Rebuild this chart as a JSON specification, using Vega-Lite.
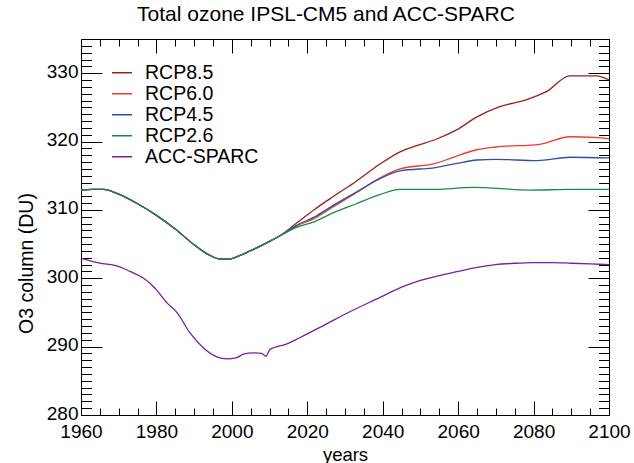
{
  "$schema": "https://vega.github.io/schema/vega-lite/v6.json",
  "autosize": {"type": "none"},
  "padding": {"left": 81, "top": 39, "right": 25, "bottom": 48},
  "width": 528,
  "height": 376,
  "background": "white",
  "config": {
    "view": {"stroke": null},
    "font": "Liberation Sans",
    "axis": {"domainColor": "black", "tickColor": "black", "labelColor": "black", "titleColor": "black", "domainWidth": 1, "tickWidth": 1, "grid": false, "labelFontWeight": "normal", "titleFontWeight": "normal"}
  },
  "title": {"text": "Total ozone IPSL-CM5 and ACC-SPARC", "fontSize": 21, "fontWeight": "normal", "color": "black", "font": "Liberation Sans", "anchor": "middle", "offset": 3, "dx": -19},
  "datasets": {
    "d": [
      {"series":"RCP8.5","year":1960,"o3":312.9},{"series":"RCP8.5","year":1963,"o3":313.0},{"series":"RCP8.5","year":1966,"o3":313.0},{"series":"RCP8.5","year":1970,"o3":312.3},{"series":"RCP8.5","year":1975,"o3":310.9},{"series":"RCP8.5","year":1980,"o3":309.2},{"series":"RCP8.5","year":1985,"o3":307.2},{"series":"RCP8.5","year":1990,"o3":304.9},{"series":"RCP8.5","year":1994,"o3":303.4},{"series":"RCP8.5","year":1997,"o3":302.8},{"series":"RCP8.5","year":1999,"o3":302.8},{"series":"RCP8.5","year":2002,"o3":303.3},{"series":"RCP8.5","year":2006,"o3":304.3},{"series":"RCP8.5","year":2010,"o3":305.4},{"series":"RCP8.5","year":2013,"o3":306.3},
      {"series":"RCP8.5","year":2017,"o3":308.0},{"series":"RCP8.5","year":2022,"o3":310.1},{"series":"RCP8.5","year":2027,"o3":312.0},{"series":"RCP8.5","year":2033,"o3":314.2},{"series":"RCP8.5","year":2039,"o3":316.6},{"series":"RCP8.5","year":2044.6,"o3":318.5},{"series":"RCP8.5","year":2049,"o3":319.4},{"series":"RCP8.5","year":2054,"o3":320.3},{"series":"RCP8.5","year":2059.6,"o3":321.7},{"series":"RCP8.5","year":2065,"o3":323.6},{"series":"RCP8.5","year":2071,"o3":325.1},{"series":"RCP8.5","year":2078,"o3":326.1},{"series":"RCP8.5","year":2083.4,"o3":327.3},{"series":"RCP8.5","year":2089.6,"o3":329.6},{"series":"RCP8.5","year":2096.7,"o3":329.6},{"series":"RCP8.5","year":2100,"o3":329.0},
      {"series":"RCP6.0","year":1960,"o3":312.9},{"series":"RCP6.0","year":1963,"o3":313.0},{"series":"RCP6.0","year":1966,"o3":313.0},{"series":"RCP6.0","year":1970,"o3":312.3},{"series":"RCP6.0","year":1975,"o3":310.9},{"series":"RCP6.0","year":1980,"o3":309.2},{"series":"RCP6.0","year":1985,"o3":307.2},{"series":"RCP6.0","year":1990,"o3":304.9},{"series":"RCP6.0","year":1994,"o3":303.4},{"series":"RCP6.0","year":1997,"o3":302.8},{"series":"RCP6.0","year":1999,"o3":302.8},{"series":"RCP6.0","year":2002,"o3":303.3},{"series":"RCP6.0","year":2006,"o3":304.3},{"series":"RCP6.0","year":2010,"o3":305.4},{"series":"RCP6.0","year":2013,"o3":306.3},
      {"series":"RCP6.0","year":2017,"o3":307.6},{"series":"RCP6.0","year":2022,"o3":308.8},{"series":"RCP6.0","year":2027,"o3":310.5},{"series":"RCP6.0","year":2033,"o3":312.5},{"series":"RCP6.0","year":2039,"o3":314.6},{"series":"RCP6.0","year":2044.6,"o3":316.0},{"series":"RCP6.0","year":2054,"o3":316.8},{"series":"RCP6.0","year":2058.7,"o3":317.7},{"series":"RCP6.0","year":2065,"o3":318.8},{"series":"RCP6.0","year":2070,"o3":319.2},{"series":"RCP6.0","year":2081.6,"o3":319.6},{"series":"RCP6.0","year":2089.6,"o3":320.7},{"series":"RCP6.0","year":2096,"o3":320.6},{"series":"RCP6.0","year":2100,"o3":320.4},
      {"series":"RCP4.5","year":1960,"o3":312.9},{"series":"RCP4.5","year":1963,"o3":313.0},{"series":"RCP4.5","year":1966,"o3":313.0},{"series":"RCP4.5","year":1970,"o3":312.3},{"series":"RCP4.5","year":1975,"o3":310.9},{"series":"RCP4.5","year":1980,"o3":309.2},{"series":"RCP4.5","year":1985,"o3":307.2},{"series":"RCP4.5","year":1990,"o3":304.9},{"series":"RCP4.5","year":1994,"o3":303.4},{"series":"RCP4.5","year":1997,"o3":302.8},{"series":"RCP4.5","year":1999,"o3":302.8},{"series":"RCP4.5","year":2002,"o3":303.3},{"series":"RCP4.5","year":2006,"o3":304.3},{"series":"RCP4.5","year":2010,"o3":305.4},{"series":"RCP4.5","year":2013,"o3":306.3},
      {"series":"RCP4.5","year":2017,"o3":307.7},{"series":"RCP4.5","year":2022,"o3":309.0},{"series":"RCP4.5","year":2027,"o3":310.7},{"series":"RCP4.5","year":2033,"o3":312.6},{"series":"RCP4.5","year":2039,"o3":314.5},{"series":"RCP4.5","year":2044.6,"o3":315.7},{"series":"RCP4.5","year":2054,"o3":316.2},{"series":"RCP4.5","year":2059.6,"o3":316.8},{"series":"RCP4.5","year":2065,"o3":317.3},{"series":"RCP4.5","year":2070,"o3":317.4},{"series":"RCP4.5","year":2081,"o3":317.2},{"series":"RCP4.5","year":2089.6,"o3":317.7},{"series":"RCP4.5","year":2100,"o3":317.6},
      {"series":"RCP2.6","year":1960,"o3":312.9},{"series":"RCP2.6","year":1963,"o3":313.0},{"series":"RCP2.6","year":1966,"o3":313.0},{"series":"RCP2.6","year":1970,"o3":312.3},{"series":"RCP2.6","year":1975,"o3":310.9},{"series":"RCP2.6","year":1980,"o3":309.2},{"series":"RCP2.6","year":1985,"o3":307.2},{"series":"RCP2.6","year":1990,"o3":304.9},{"series":"RCP2.6","year":1994,"o3":303.4},{"series":"RCP2.6","year":1997,"o3":302.8},{"series":"RCP2.6","year":1999,"o3":302.8},{"series":"RCP2.6","year":2002,"o3":303.3},{"series":"RCP2.6","year":2006,"o3":304.3},{"series":"RCP2.6","year":2010,"o3":305.4},{"series":"RCP2.6","year":2013,"o3":306.3},
      {"series":"RCP2.6","year":2017,"o3":307.4},{"series":"RCP2.6","year":2022,"o3":308.3},{"series":"RCP2.6","year":2027,"o3":309.6},{"series":"RCP2.6","year":2033,"o3":310.9},{"series":"RCP2.6","year":2039,"o3":312.2},{"series":"RCP2.6","year":2044.6,"o3":313.0},{"series":"RCP2.6","year":2054,"o3":313.0},{"series":"RCP2.6","year":2064,"o3":313.3},{"series":"RCP2.6","year":2079,"o3":312.9},{"series":"RCP2.6","year":2089.6,"o3":313.0},{"series":"RCP2.6","year":2100,"o3":313.0},
      {"series":"ACC-SPARC","year":1960,"o3":302.9},{"series":"ACC-SPARC","year":1965,"o3":302.2},{"series":"ACC-SPARC","year":1969.5,"o3":301.8},{"series":"ACC-SPARC","year":1973,"o3":301.0},{"series":"ACC-SPARC","year":1976.6,"o3":300.0},{"series":"ACC-SPARC","year":1979.2,"o3":298.8},{"series":"ACC-SPARC","year":1982.8,"o3":296.4},{"series":"ACC-SPARC","year":1985.4,"o3":295.0},{"series":"ACC-SPARC","year":1988.9,"o3":292.0},{"series":"ACC-SPARC","year":1992.5,"o3":289.8},{"series":"ACC-SPARC","year":1996,"o3":288.5},{"series":"ACC-SPARC","year":1998.7,"o3":288.2},{"series":"ACC-SPARC","year":2001.3,"o3":288.4},{"series":"ACC-SPARC","year":2003.1,"o3":288.9},{"series":"ACC-SPARC","year":2005.7,"o3":289.1},{"series":"ACC-SPARC","year":2007.9,"o3":289.0},{"series":"ACC-SPARC","year":2009,"o3":288.6},{"series":"ACC-SPARC","year":2010.1,"o3":289.6},{"series":"ACC-SPARC","year":2014.6,"o3":290.4},{"series":"ACC-SPARC","year":2018,"o3":291.3},{"series":"ACC-SPARC","year":2025,"o3":293.3},{"series":"ACC-SPARC","year":2031.3,"o3":295.1},{"series":"ACC-SPARC","year":2039.3,"o3":297.2},{"series":"ACC-SPARC","year":2045,"o3":298.7},{"series":"ACC-SPARC","year":2050,"o3":299.7},{"series":"ACC-SPARC","year":2055,"o3":300.4},{"series":"ACC-SPARC","year":2060,"o3":301.0},{"series":"ACC-SPARC","year":2065,"o3":301.6},{"series":"ACC-SPARC","year":2070,"o3":302.0},{"series":"ACC-SPARC","year":2075,"o3":302.2},{"series":"ACC-SPARC","year":2080,"o3":302.3},{"series":"ACC-SPARC","year":2085,"o3":302.3},{"series":"ACC-SPARC","year":2090,"o3":302.2},{"series":"ACC-SPARC","year":2095,"o3":302.1},{"series":"ACC-SPARC","year":2100,"o3":302.0}
    ]
  },
  "data": {"name": "d"},
  "layer": [
    {
      "mark": {"type": "line", "strokeWidth": 1.3, "interpolate": "monotone", "clip": true},
      "encoding": {
        "x": {"field": "year", "type": "quantitative", "scale": {"domain": [1960, 2100], "nice": false, "zero": false},
          "axis": {"orient": "bottom", "title": "years", "titleFontSize": 18.5, "titlePadding": -3,
            "values": [1960,1965,1970,1975,1980,1985,1990,1995,2000,2005,2010,2015,2020,2025,2030,2035,2040,2045,2050,2055,2060,2065,2070,2075,2080,2085,2090,2095,2100],
            "labelExpr": "datum.value % 20 === 0 ? datum.label : ''", "format": "d",
            "tickSize": {"condition": {"test": "datum.value % 20 === 0", "value": -14}, "value": -7},
            "labelPadding": 21, "labelFontSize": 19, "labelFlush": false, "labelOverlap": false}},
        "y": {"field": "o3", "type": "quantitative", "scale": {"domain": [280, 335], "nice": false, "zero": false},
          "axis": {"orient": "left", "title": "O3 column (DU)", "titleFontSize": 19.5, "titlePadding": 10, "titleY": 224,
            "values": [280,281,282,283,284,285,286,287,288,289,290,291,292,293,294,295,296,297,298,299,300,301,302,303,304,305,306,307,308,309,310,311,312,313,314,315,316,317,318,319,320,321,322,323,324,325,326,327,328,329,330,331,332,333,334,335],
            "labelExpr": "datum.value % 10 === 0 ? datum.label : ''",
            "tickSize": {"condition": {"test": "datum.value % 10 === 0", "value": -21}, "value": -10.5},
            "labelPadding": 24, "labelFontSize": 19, "labelFlush": false, "labelOverlap": false, "labelOffset": -2}},
        "color": {"field": "series", "type": "nominal",
          "scale": {"domain": ["RCP8.5", "RCP6.0", "RCP4.5", "RCP2.6", "ACC-SPARC"], "range": ["#9B2117", "#EE3B2B", "#2E4FB0", "#1A8A3E", "#7B1FA2"]},
          "legend": {"orient": "none", "legendX": 30, "legendY": 24, "title": null, "symbolType": "stroke", "symbolSize": 400, "symbolStrokeWidth": 1.5, "labelFontSize": 19.5, "labelColor": "black", "labelOffset": 12, "rowPadding": 0, "clipHeight": 19.5, "padding": 0}}
      }
    },
    {
      "mark": {"type": "line", "opacity": 0, "strokeWidth": 1},
      "encoding": {
        "x": {"field": "year", "type": "quantitative",
          "axis": {"orient": "top", "title": null, "labels": false,
            "values": [1960,1965,1970,1975,1980,1985,1990,1995,2000,2005,2010,2015,2020,2025,2030,2035,2040,2045,2050,2055,2060,2065,2070,2075,2080,2085,2090,2095,2100],
            "tickSize": {"condition": {"test": "datum.value % 20 === 0", "value": -14}, "value": -7}}},
        "y": {"field": "o3", "type": "quantitative",
          "axis": {"orient": "right", "title": null, "labels": false,
            "values": [280,281,282,283,284,285,286,287,288,289,290,291,292,293,294,295,296,297,298,299,300,301,302,303,304,305,306,307,308,309,310,311,312,313,314,315,316,317,318,319,320,321,322,323,324,325,326,327,328,329,330,331,332,333,334,335],
            "tickSize": {"condition": {"test": "datum.value % 10 === 0", "value": -21}, "value": -10.5}}},
        "detail": {"field": "series", "type": "nominal"}
      }
    }
  ],
  "resolve": {"axis": {"x": "independent", "y": "independent"}}
}
